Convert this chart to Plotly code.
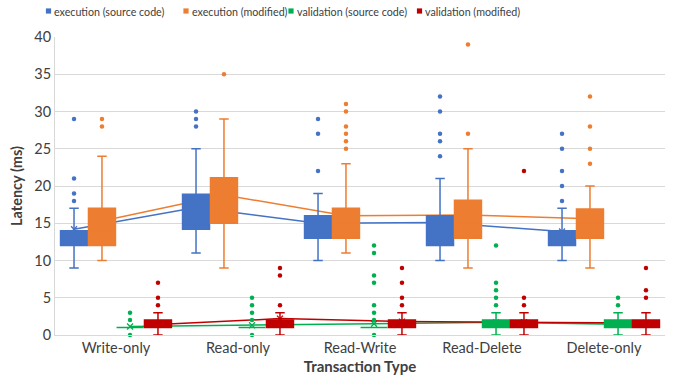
import numpy as np
import plotly.graph_objects as go

# ---------------- data ----------------
categories = ["Write-only", "Read-only", "Read-Write", "Read-Delete", "Delete-only"]
series_names = ["execution (source code)", "execution (modified)",
                "validation (source code)", "validation (modified)"]

# execution (source code)
exec_src_lower = [9, 11, 10, 10, 10]
exec_src_q1 = [12, 14.2, 13, 12, 12]
exec_src_median = [13, 16, 14, 14, 13]
exec_src_q3 = [14, 18.9, 16, 16, 14]
exec_src_upper = [17, 25, 19, 21, 17]
exec_src_mean = [14.2, 17.1, 15.0, 15.1, 13.9]
exec_src_outliers = [[29, 21, 19, 18], [30, 29, 28], [29, 27, 22],
                     [32, 30, 27, 26, 24], [27, 25, 22, 20, 18]]

# execution (modified)
exec_mod_lower = [10, 9, 11, 9, 9]
exec_mod_q1 = [12, 15, 13, 13, 13]
exec_mod_median = [14, 18, 15, 15, 15]
exec_mod_q3 = [17, 21.1, 17, 18.1, 16.9]
exec_mod_upper = [24, 29, 23, 25, 20]
exec_mod_mean = [15.3, 18.8, 16.0, 16.1, 15.6]
exec_mod_outliers = [[29, 28], [35], [31, 30, 28, 27, 26, 25],
                     [39, 27], [32, 28, 25, 23]]

# validation (source code)
val_src_lower = [1, 1, 1, 0, 0]
val_src_q1 = [1, 1, 1, 1, 1]
val_src_median = [1, 1, 1, 1, 1]
val_src_q3 = [1, 1, 1, 2, 2]
val_src_upper = [1, 1, 1, 3, 3]
val_src_mean = [1.15, 1.3, 1.5, 1.7, 1.45]
val_src_outliers = [[3, 2, 0], [5, 4, 3, 2, 0], [12, 11, 8, 7, 4, 3, 2, 0],
                    [12, 7, 6, 5, 4], [5, 4]]

# validation (modified)
val_mod_lower = [0, 0, 0, 0, 0]
val_mod_q1 = [1, 1, 1, 1, 1]
val_mod_median = [1, 1, 1, 1, 1]
val_mod_q3 = [2, 2, 2, 2, 2]
val_mod_upper = [3, 3, 3, 3, 3]
val_mod_mean = [1.4, 2.2, 1.8, 1.7, 1.6]
val_mod_outliers = [[7, 5, 4], [9, 8, 4], [9, 7, 5, 4], [22, 5, 4], [9, 6, 5]]

colors = ["#4472C4", "#ED7D31", "#00B050", "#C00000"]

series = [
    dict(lower=exec_src_lower, q1=exec_src_q1, median=exec_src_median, q3=exec_src_q3,
         upper=exec_src_upper, mean=exec_src_mean, outliers=exec_src_outliers),
    dict(lower=exec_mod_lower, q1=exec_mod_q1, median=exec_mod_median, q3=exec_mod_q3,
         upper=exec_mod_upper, mean=exec_mod_mean, outliers=exec_mod_outliers),
    dict(lower=val_src_lower, q1=val_src_q1, median=val_src_median, q3=val_src_q3,
         upper=val_src_upper, mean=val_src_mean, outliers=val_src_outliers),
    dict(lower=val_mod_lower, q1=val_mod_q1, median=val_mod_median, q3=val_mod_q3,
         upper=val_mod_upper, mean=val_mod_mean, outliers=val_mod_outliers),
]

# ---------------- layout helpers ----------------
cat_idx = np.arange(len(categories))
offsets = [-0.344, -0.115, 0.115, 0.344]
box_width = 0.221
FONT = "Lato"
TXT = "#404040"
W, H = 677, 389
ML, MR, MT, MB = 55, 12, 37, 54
PW, PH = W - ML - MR, H - MT - MB
legend_square_px = [48.5, 186, 291, 419.5]   # legend square centres (px)
legend_y_px = 11

fig = go.Figure()

# mean lines (underlying subplot, drawn beneath the boxes)
for s, c, off in zip(series, colors, offsets):
    pos = cat_idx + off
    fig.add_trace(go.Scatter(
        x=pos, y=s["mean"], mode="lines+markers",
        line=dict(color=c, width=1.5),
        marker=dict(symbol="x-thin", size=6, line=dict(color=c, width=1.3)),
        showlegend=False, hoverinfo="skip"))

# boxes + outliers on the overlay subplot
for s, c, off, name in zip(series, colors, offsets, series_names):
    pos = cat_idx + off
    fig.add_trace(go.Box(
        x=pos, q1=s["q1"], median=s["median"], q3=s["q3"],
        lowerfence=s["lower"], upperfence=s["upper"],
        width=box_width, whiskerwidth=0.35, name=name,
        fillcolor=c, line=dict(color=c, width=1.5),
        boxpoints=False, showlegend=False,
        xaxis="x2", yaxis="y2"))
    ox, oy = [], []
    for p, vals in zip(pos, s["outliers"]):
        ox.extend([p] * len(vals))
        oy.extend(vals)
    fig.add_trace(go.Scatter(
        x=ox, y=oy, mode="markers", name=name,
        marker=dict(color=c, size=4.5),
        cliponaxis=False, showlegend=False,
        xaxis="x2", yaxis="y2"))

# compact legend row (square + label), as in the original
shapes, annotations = [], []
ly = (H - MB - legend_y_px) / PH
for name, c, sx in zip(series_names, colors, legend_square_px):
    px_ = (sx - ML) / PW
    shapes.append(dict(type="rect", xref="paper", yref="paper",
                       xsizemode="pixel", ysizemode="pixel",
                       xanchor=px_, yanchor=ly, x0=-2.6, x1=2.6, y0=-2.6, y1=2.6,
                       fillcolor=c, line=dict(width=0)))
    annotations.append(dict(text=name, xref="paper", yref="paper",
                            x=(sx + 4.5 - ML) / PW, y=ly, xanchor="left", yanchor="middle",
                            showarrow=False, font=dict(size=10.7, color=TXT, family=FONT),
                            borderpad=0))

xr = [-0.5, len(categories) - 0.5]
yr = [0, 40]

fig.update_layout(
    width=W, height=H,
    margin=dict(l=ML, r=MR, t=MT, b=MB, autoexpand=False),
    paper_bgcolor="white", plot_bgcolor="white",
    font=dict(family=FONT, size=14, color=TXT),
    showlegend=False,
    shapes=shapes, annotations=annotations,
    xaxis=dict(range=xr, tickvals=list(cat_idx), ticktext=categories,
               showgrid=False, zeroline=False, showline=True, linecolor="#D9D9D9",
               linewidth=1, ticks="", tickfont=dict(size=14.5),
               title=dict(text="<b>Transaction Type</b>", font=dict(size=15, color=TXT),
                          standoff=6)),
    yaxis=dict(range=yr, dtick=5, showgrid=True, gridcolor="#D9D9D9", gridwidth=1,
               zeroline=False, showline=True, linecolor="#D9D9D9", linewidth=1,
               ticks="", tickfont=dict(size=14.5),
               title=dict(text="<b>Latency (ms)</b>", font=dict(size=14.5, color=TXT),
                          standoff=8)),
    xaxis2=dict(range=xr, overlaying="x", visible=False),
    yaxis2=dict(range=yr, overlaying="y", visible=False),
)

fig.write_html("out.html", config={"displayModeBar": False},
               post_script="document.body.style.margin='0';document.body.style.overflow='hidden';")
